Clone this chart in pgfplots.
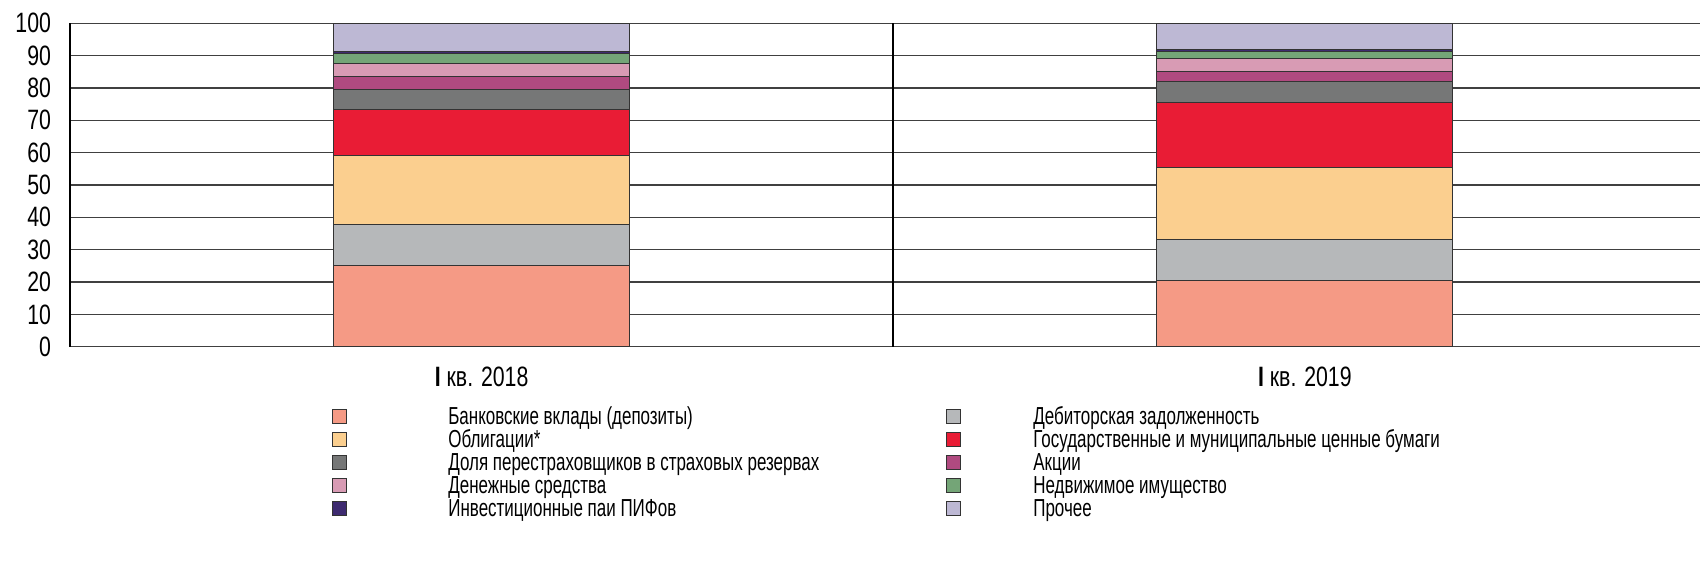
\documentclass[border=0pt]{standalone}
\usepackage{fontspec}
\setmainfont{Liberation Sans}[FakeStretch=0.76]
\newfontfamily\legfont{Liberation Sans}[FakeStretch=0.69]
\usepackage{pgfplots}
\pgfplotsset{compat=1.18}
\definecolor{cbank}{HTML}{F59A85}
\definecolor{cdeb}{HTML}{B6B8BA}
\definecolor{cobl}{HTML}{FBCF8F}
\definecolor{cgov}{HTML}{E91C35}
\definecolor{creins}{HTML}{767777}
\definecolor{cshares}{HTML}{B04A80}
\definecolor{ccash}{HTML}{D89BB4}
\definecolor{creal}{HTML}{74A577}
\definecolor{cpif}{HTML}{3E2B70}
\definecolor{cother}{HTML}{BDB8D4}
\newcommand{\lc}[1]{\makebox[263.5pt][l]{\hspace{14.5pt}#1}}
\begin{document}
\begin{tikzpicture}
\path[use as bounding box] (-35pt,-110.15pt) rectangle (815pt,173.35pt);
\begin{axis}[
  at={(0,0)}, anchor=south west,
  scale only axis, width=815pt, height=161.7pt,
  xmin=-0.5, xmax=1.48, ymin=0, ymax=100,
  ybar stacked, bar width=148pt,
  xtick={0,1},
  xticklabels={{\bfseries I} кв. 2018, {\bfseries I} кв. 2019},
  ytick={0,10,...,100},
  axis x line=bottom, axis y line=left, axis line style={-},
  x axis line style={black!75, line width=0.7pt},
  y axis line style={black, line width=1.1pt},
  ymajorgrids, grid style={black!75, line width=0.7pt},
  extra x ticks={0.5}, extra x tick labels={},
  extra x tick style={grid=major, major grid style={black, line width=0.8pt}},
  major tick length=0pt,
  tick label style={font=\fontsize{14}{14}\selectfont},
  /pgf/number format/assume math mode=true,
  yticklabel style={xshift=-6pt},
  xticklabel style={yshift=-6.5pt},
  every axis plot/.append style={draw=black!80, line width=0.5pt},
  legend columns=2,
  legend cell align=left,
  legend style={at={(0.1607,-0.191)}, anchor=north west, draw=none, fill=none,
    inner sep=0pt, row sep=0pt,
    nodes={inner sep=0pt, text height=8pt, text depth=3.4pt, font=\legfont\fontsize{12.3}{12}\selectfont},
    /tikz/every odd column/.append style={column sep=36pt}},
  legend image code/.code={\draw[#1, draw=black!80, line width=0.5pt] (0pt,-1.8pt) rectangle (7pt,5.2pt);},
]
\addplot[fill=cbank] coordinates {(0,25.0) (1,20.6)};
\addlegendentry{\lc{Банковские вклады (депозиты)}}
\addplot[fill=cdeb] coordinates {(0,12.9) (1,12.4)};
\addlegendentry{Дебиторская задолженность}
\addplot[fill=cobl] coordinates {(0,21.3) (1,22.4)};
\addlegendentry{\lc{Облигации*}}
\addplot[fill=cgov] coordinates {(0,14.2) (1,20.0)};
\addlegendentry{Государственные и муниципальные ценные бумаги}
\addplot[fill=creins] coordinates {(0,6.2) (1,6.7)};
\addlegendentry{\lc{Доля перестраховщиков в страховых резервах}}
\addplot[fill=cshares] coordinates {(0,3.9) (1,3.1)};
\addlegendentry{Акции}
\addplot[fill=ccash] coordinates {(0,4.1) (1,3.8)};
\addlegendentry{\lc{Денежные средства}}
\addplot[fill=creal] coordinates {(0,3.1) (1,2.3)};
\addlegendentry{Недвижимое имущество}
\addplot[fill=cpif] coordinates {(0,0.5) (1,0.5)};
\addlegendentry{\lc{Инвестиционные паи ПИФов}}
\addplot[fill=cother] coordinates {(0,8.8) (1,8.2)};
\addlegendentry{Прочее}
\end{axis}
\end{tikzpicture}
\end{document}
